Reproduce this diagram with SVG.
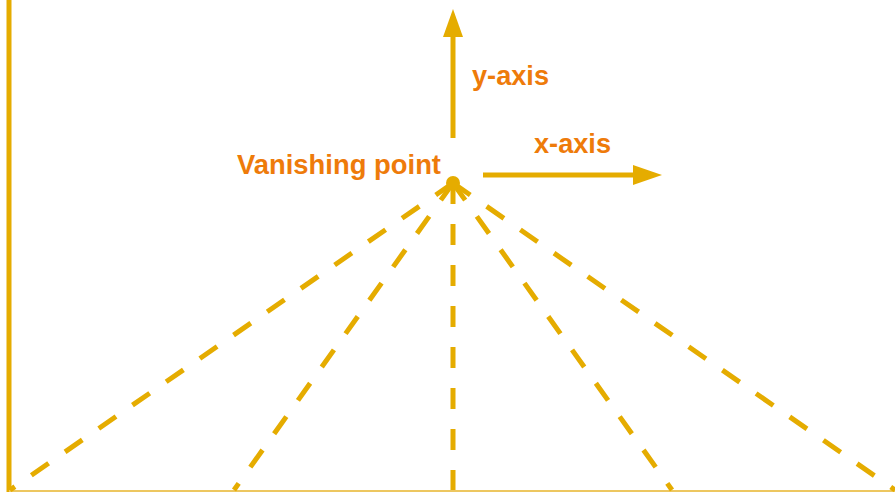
<svg xmlns="http://www.w3.org/2000/svg" width="895" height="492" viewBox="0 0 895 492">
<style>
.ln{stroke:#E5AC00;stroke-width:5;fill:none}
.ds{stroke:#E5AC00;stroke-width:5;fill:none;stroke-dasharray:21 20}
.lb{font-family:"Liberation Sans",Arial,sans-serif;font-weight:bold;font-size:28px;fill:#EE7B0A}
</style>
<rect width="895" height="492" fill="#fff"/>
<g id="frame">
<line class="ln" x1="9" y1="0" x2="9" y2="492"/>
<line x1="9" y1="491" x2="895" y2="491" stroke="#EDC760" stroke-width="2"/>
</g>
<g id="connectors">
<line class="ds" x1="453" y1="183" x2="10" y2="490"/>
<line class="ds" x1="453" y1="183" x2="234" y2="490"/>
<line class="ds" x1="453" y1="183" x2="453" y2="490"/>
<line class="ds" x1="453" y1="183" x2="672" y2="490"/>
<line class="ds" x1="453" y1="183" x2="895" y2="490"/>
<line class="ln" x1="453" y1="138" x2="453" y2="35"/>
<polygon points="453,9 463,37 443,37" fill="#E5AC00"/>
<line class="ln" x1="483" y1="175" x2="636" y2="175"/>
<polygon points="662,175 633,165 633,185" fill="#E5AC00"/>
</g>
<g id="vanishing-point">
<circle cx="453" cy="183" r="7" fill="#E5AC00"/>
<text class="lb" x="237" y="174" textLength="204" lengthAdjust="spacingAndGlyphs">Vanishing point</text>
</g>
<g id="y-axis">
<text class="lb" x="472" y="85" textLength="77" lengthAdjust="spacingAndGlyphs">y-axis</text>
</g>
<g id="x-axis">
<text class="lb" x="534" y="153" textLength="77" lengthAdjust="spacingAndGlyphs">x-axis</text>
</g>
</svg>
